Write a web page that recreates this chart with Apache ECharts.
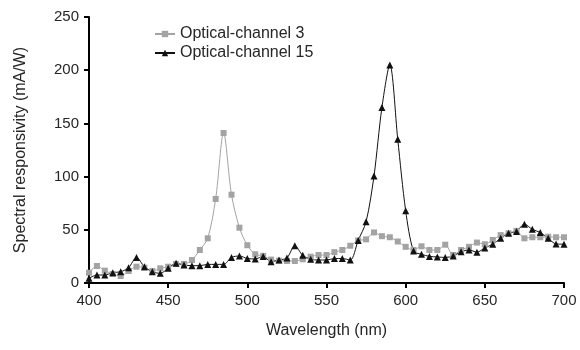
<!DOCTYPE html>
<html>
<head>
<meta charset="utf-8">
<script src="https://cdn.jsdelivr.net/npm/echarts@6/dist/echarts.min.js"></script>
<style>
html, body { margin: 0; padding: 0; background: #fff; }
#chart { width: 580px; height: 350px; }
</style>
</head>
<body>
<div id="chart"></div>
<script>
// wavelength every 5 nm, 400..700
var wavelength = [400,405,410,415,420,425,430,435,440,445,450,455,460,465,470,475,480,485,490,495,
    500,505,510,515,520,525,530,535,540,545,550,555,560,565,570,575,580,585,590,595,
    600,605,610,615,620,625,630,635,640,645,650,655,660,665,670,675,680,685,690,695,700]

var channel3 = [9.7,16,11.6,8.5,6.6,11.3,15.3,14.4,11.3,13.8,15.3,17.9,17.9,21.6,31,42,79,141,83,52,
    35.5,27,25.5,22,21,20.7,20.7,22.3,24.7,26.3,26.3,29,31,35,40,41,47.5,44,43,39,
    34,31,34.5,31,31,36,26.3,31,34,38,36.4,40.4,45,46.7,49,42,43,43,43.5,43,43]

var channel15 = [4.4,7.5,7.5,9.7,10.6,14.4,24,15.3,10.6,9.1,13.8,18.5,16.9,16.3,16.3,17.5,17.5,17.5,24,25.4,
    23,22.6,25,20,21.6,23.5,35,26,22.3,21.6,21.6,23,23,21.6,40,57.6,100.6,165,205,135,
    68,30,27,25,24.5,24,25.4,29.4,31,29,33,36.5,42,46.7,48.5,55.3,50.4,47.5,42,36.7,36.5]

function pairs(vals) {
    return wavelength.map(function (w, i) { return [w, vals[i]] })
}

var txt = '#262626'
var font = 'Liberation Sans, Arial, sans-serif'
var mychart = echarts.init(document.getElementById('chart'))
mychart.setOption({
    animation: false,
    textStyle: { fontFamily: font },
    legend: {
        orient: 'vertical',
        left: 149,
        top: 21,
        itemGap: 3,
        itemWidth: 20,
        itemHeight: 8,
        textStyle: { fontSize: 16, color: txt, fontFamily: font },
        data: ['Optical-channel 3', 'Optical-channel 15']
    },
    grid: { left: 89, right: 16, top: 17, bottom: 67, containLabel: false },
    xAxis: {
        type: 'value',
        min: 400, max: 700, interval: 50,
        name: 'Wavelength (nm)',
        nameLocation: 'middle',
        nameGap: 40,
        nameTextStyle: { fontSize: 16, color: txt },
        axisLine: { show: true, lineStyle: { color: '#000', width: 2 } },
        axisTick: { show: true, length: 5, lineStyle: { color: '#000', width: 2 } },
        axisLabel: { fontSize: 15, color: txt, margin: 10 },
        splitLine: { show: false }
    },
    yAxis: {
        type: 'value',
        min: 0, max: 250, interval: 50,
        name: 'Spectral responsivity (mA/W)',
        nameLocation: 'middle',
        nameGap: 60,
        nameTextStyle: { fontSize: 16, color: txt },
        axisLine: { show: true, lineStyle: { color: '#000', width: 2 } },
        axisTick: { show: true, length: 5, lineStyle: { color: '#000', width: 2 } },
        axisLabel: { fontSize: 15, color: txt, margin: 10 },
        splitLine: { show: false }
    },
    series: [{
        name: 'Optical-channel 3',
        type: 'line',
        smooth: 0.3,
        symbol: 'rect',
        symbolSize: 6,
        itemStyle: { color: '#a3a3a3' },
        lineStyle: { color: '#a3a3a3', width: 1 },
        data: pairs(channel3)
    }, {
        name: 'Optical-channel 15',
        type: 'line',
        smooth: 0.3,
        symbol: 'triangle',
        symbolSize: 7,
        itemStyle: { color: '#111' },
        lineStyle: { color: '#111', width: 1 },
        data: pairs(channel15)
    }]
})
</script>
</body>
</html>
